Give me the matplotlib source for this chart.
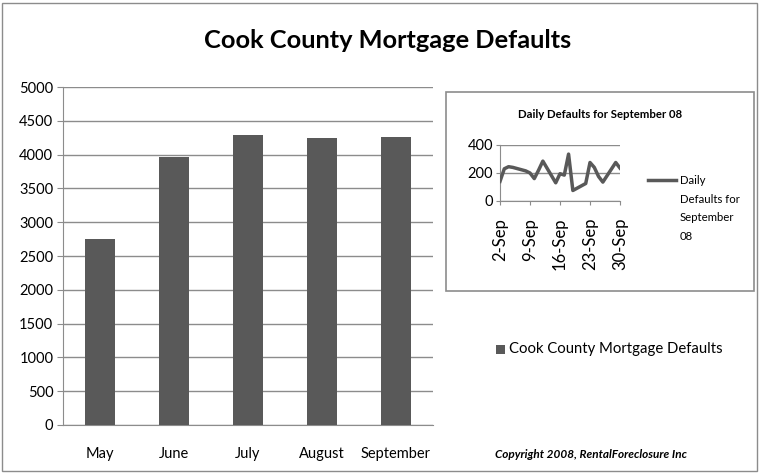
import matplotlib
matplotlib.use("Agg")
import matplotlib.pyplot as plt
from matplotlib.patches import Rectangle
from matplotlib.lines import Line2D
import datetime as dt

plt.rcParams['font.family'] = ['Lato', 'DejaVu Sans']

months = ["May", "June", "July", "August", "September"]
defaults = [2750, 3960, 4290, 4250, 4260]

day_numbers = [2, 3, 4, 5, 8, 9, 10, 11, 12, 15, 16, 17, 18, 19, 22, 23, 24, 25, 26, 29, 30]
daily_defaults = [140, 230, 245, 240, 215, 200, 160, 220, 285, 130, 195, 185, 335, 75,
                  125, 275, 240, 175, 135, 275, 235]
daily_ticks = [2, 9, 16, 23, 30]

W, H = 760, 474
fig = plt.figure(figsize=(W / 100, H / 100), dpi=100)
fig.patch.set_facecolor("white")

def ax_rect(x0, y0, x1, y1):
    return [x0 / W, 1 - y1 / H, (x1 - x0) / W, (y1 - y0) / H]

# outer border
fig.add_artist(Rectangle((2 / W, 3 / H), 755 / W, 468 / H, transform=fig.transFigure,
                         fill=False, edgecolor="#8c8c8c", linewidth=1))

bar_color = "#595959"
grid_color = "#8c8c8c"

ax = fig.add_axes(ax_rect(63, 87, 433, 425))
x = list(range(len(months)))
ax.bar(x, defaults, width=0.4, color=bar_color, zorder=3)
ax.set_xlim(-0.5, len(months) - 0.5)
ax.set_ylim(0, 5000)
ax.set_yticks(range(0, 5001, 500))
ax.set_xticks(x)
ax.set_xticklabels(months)
ax.yaxis.grid(True, color=grid_color, linewidth=1, zorder=0)
for s in ["top", "right"]:
    ax.spines[s].set_visible(False)
for s in ["left", "bottom"]:
    ax.spines[s].set_color(grid_color)
ax.tick_params(axis="y", length=4, color=grid_color, labelsize=10.5, pad=3)
ax.tick_params(axis="x", length=0, labelsize=10.5, pad=16)

fig.text(388 / W, 1 - 40 / H, "Cook County Mortgage Defaults", ha="center", va="center",
         fontsize=18.3, fontweight="bold")

# inset box
fig.add_artist(Rectangle((446 / W, 1 - 291 / H), 308 / W, 199 / H, transform=fig.transFigure,
                         fill=False, edgecolor="#8c8c8c", linewidth=1.2))
fig.text(600 / W, 1 - 114 / H, "Daily Defaults for September 08", ha="center", va="center",
         fontsize=8.2, fontweight="bold")

iax = fig.add_axes(ax_rect(500, 145, 620, 201))
dates = [dt.date(2008, 9, d) for d in day_numbers]
iax.plot(dates, daily_defaults, color=bar_color, linewidth=2.5, zorder=3)
iax.set_xlim(dt.date(2008, 9, 2), dt.date(2008, 9, 30))
iax.set_ylim(0, 400)
iax.set_yticks([0, 200, 400])
iax.set_xticks([dt.date(2008, 9, d) for d in daily_ticks])
iax.set_xticklabels([f"{d}-Sep" for d in daily_ticks], rotation=90)
iax.yaxis.grid(True, color=grid_color, linewidth=1, zorder=0)
for s in ["top", "right"]:
    iax.spines[s].set_visible(False)
for s in ["left", "bottom"]:
    iax.spines[s].set_color(grid_color)
iax.tick_params(axis="y", length=3, color=grid_color, labelsize=10.5, pad=2)
iax.tick_params(axis="x", length=3, color=grid_color, labelsize=12, pad=9)

fig.add_artist(Line2D([648 / W, 676 / W], [1 - 180 / H, 1 - 180 / H], transform=fig.transFigure,
                      color=bar_color, linewidth=2.5))
fig.text(680 / W, 1 - 175 / H, "Daily\nDefaults for\nSeptember\n08", ha="left", va="top",
         fontsize=8.2, linespacing=1.85)

# main legend
fig.add_artist(Rectangle((496 / W, 1 - 354 / H), 9 / W, 9 / H, transform=fig.transFigure,
                         facecolor=bar_color, edgecolor="none"))
fig.text(509 / W, 1 - 349 / H, "Cook County Mortgage Defaults", ha="left", va="center",
         fontsize=10.7)

fig.text(495 / W, 1 - 454 / H, "Copyright 2008, RentalForeclosure Inc", ha="left", va="center",
         fontsize=8.5, fontweight="bold", fontstyle="italic")

fig.savefig("out.png", dpi=100)
